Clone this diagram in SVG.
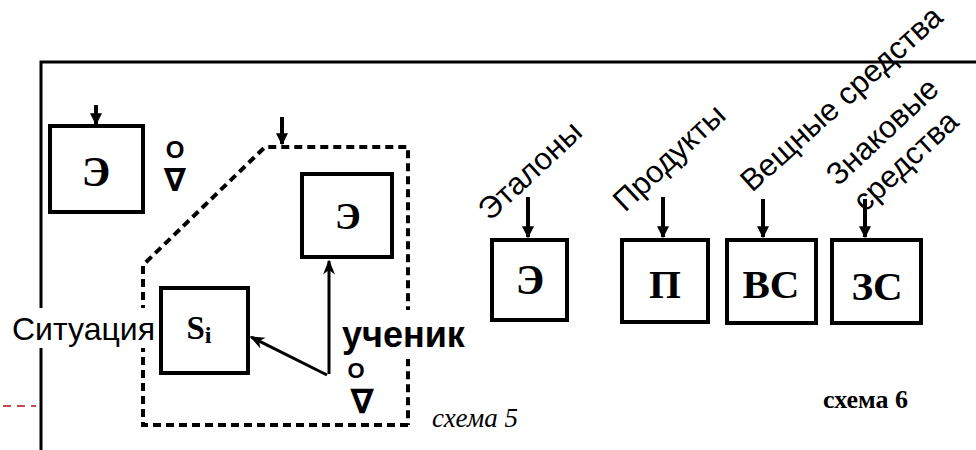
<svg xmlns="http://www.w3.org/2000/svg" width="976" height="450" viewBox="0 0 976 450">
<style>
.box{fill:#fff;stroke:#000;stroke-width:4}
.ln{fill:none;stroke:#000;stroke-width:3}
.arr{fill:none;stroke:#000;stroke-width:4}
.dash{fill:none;stroke:#000;stroke-width:4;stroke-dasharray:8 5}
.sym{font-family:"Liberation Serif",serif;font-weight:bold;fill:#000;text-anchor:middle}
.lab{font-family:"Liberation Sans",Arial,sans-serif;fill:#000}
.rot{font-family:"Liberation Sans",Arial,sans-serif;fill:#000;font-size:31px}
.mk{font-family:"DejaVu Sans",sans-serif;font-weight:bold;fill:#000;text-anchor:middle}
.mo{font-family:"Liberation Sans",Arial,sans-serif;font-weight:bold;fill:#000;text-anchor:middle}
.cap{font-family:"Liberation Serif",serif;fill:#000}
</style>
<defs>
<marker id="ah" viewBox="0 0 10 10" refX="9" refY="5" markerWidth="3" markerHeight="3" orient="auto" markerUnits="strokeWidth">
<path d="M0,0 L10,5 L0,10 z" fill="#000"/>
</marker>
<marker id="ah2" viewBox="0 0 10 10" refX="9" refY="5" markerWidth="5" markerHeight="5" orient="auto" markerUnits="strokeWidth">
<path d="M0,1 L10,5 L0,9 L3,5 z" fill="#000"/>
</marker>
</defs>
<rect width="976" height="450" fill="#fff"/>
<g id="frame">
<path class="ln" d="M41,450 L41,62 L976,62"/>
<path d="M3,406 L36,406" stroke="#c0504d" stroke-width="2" stroke-dasharray="8 6" fill="none"/>
</g>
<g id="region5">
<path class="dash" d="M408,425 L143,425 L143,265 L265,147 L408,147 L408,425"/>
</g>
<g id="connectors">
<path class="arr" d="M96,105 L96,124" marker-end="url(#ah)"/>
<path class="arr" d="M282,117 L282,144" marker-end="url(#ah)"/>
<path class="ln" d="M329,374 L329,261" marker-end="url(#ah2)"/>
<path class="ln" d="M327,375 L251,337" marker-end="url(#ah2)"/>
<path class="arr" d="M528,197 L528,237" marker-end="url(#ah)"/>
<path class="arr" d="M663,197 L663,237" marker-end="url(#ah)"/>
<path class="arr" d="M763,199 L763,237" marker-end="url(#ah)"/>
<path class="arr" d="M865,199 L865,237" marker-end="url(#ah)"/>
</g>
<g id="e1">
<rect class="box" x="50" y="126" width="93" height="86"/>
<text class="sym" x="96" y="186" font-size="42">Э</text>
<text class="mo" x="175" y="158" font-size="24">O</text>
<text class="mk" x="175" y="191" font-size="32">∇</text>
</g>
<g id="e2">
<rect class="box" x="302" y="174" width="90" height="83"/>
<text class="sym" x="348" y="229" font-size="38">Э</text>
</g>
<g id="si">
<rect class="box" x="161" y="288" width="87" height="85"/>
<text class="sym" x="199" y="339" font-size="33">S<tspan font-size="24" dy="4">i</tspan></text>
</g>
<g id="situation">
<rect x="8" y="308" width="150" height="40" fill="#fff"/>
<text class="lab" x="12" y="340" font-size="32">Ситуация</text>
</g>
<g id="student">
<rect x="340" y="310" width="132" height="49" fill="#fff"/>
<text class="lab" x="342" y="347" font-size="36" font-weight="bold">ученик</text>
<text class="mo" x="356" y="378" font-size="22">O</text>
<text class="mk" x="362" y="413" font-size="34">∇</text>
</g>
<text class="cap" x="432" y="427" font-size="27" font-style="italic">схема 5</text>
<g id="etalon">
<rect class="box" x="492" y="240" width="75" height="80"/>
<text class="sym" x="530" y="294" font-size="42">Э</text>
<text class="rot" transform="translate(490,222) rotate(-43)">Эталоны</text>
</g>
<g id="product">
<rect class="box" x="622" y="240" width="86" height="82"/>
<text class="sym" x="665" y="298" font-size="41">П</text>
<text class="rot" transform="translate(625,213) rotate(-43)">Продукты</text>
</g>
<g id="vs">
<rect class="box" x="727" y="240" width="89" height="83"/>
<text class="sym" x="771" y="298" font-size="41">ВС</text>
<text class="rot" transform="translate(752,193) rotate(-42)">Вещные средства</text>
</g>
<g id="zs">
<rect class="box" x="832" y="240" width="89" height="83"/>
<text class="sym" x="877" y="300" font-size="41">ЗС</text>
<text class="rot" transform="translate(838,187) rotate(-43)">Знаковые</text>
<text class="rot" transform="translate(865,213) rotate(-43)">средства</text>
</g>
<text class="cap" x="823" y="408" font-size="26" font-weight="bold">схема 6</text>
</svg>
